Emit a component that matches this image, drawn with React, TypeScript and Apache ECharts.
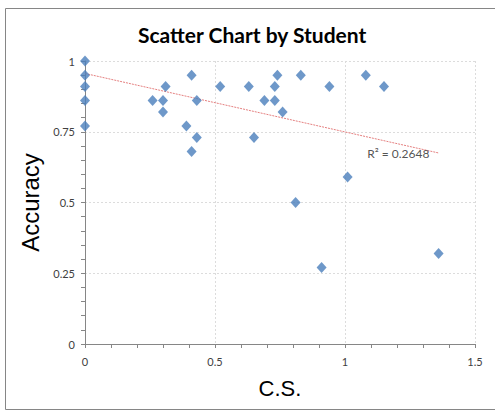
import React, { useEffect, useRef } from "react";
import * as echarts from "echarts";

const csValues = [0, 0, 0, 0, 0, 0.26, 0.3, 0.3, 0.31, 0.39, 0.41, 0.41, 0.43, 0.43, 0.52, 0.63, 0.65, 0.69, 0.73, 0.73, 0.74, 0.76, 0.81, 0.83, 0.91, 0.94, 1.01, 1.08, 1.15, 1.36];
const accuracyValues = [1, 0.95, 0.91, 0.86, 0.77, 0.86, 0.86, 0.82, 0.91, 0.77, 0.95, 0.68, 0.86, 0.73, 0.91, 0.91, 0.73, 0.86, 0.91, 0.86, 0.95, 0.82, 0.5, 0.95, 0.27, 0.91, 0.59, 0.95, 0.91, 0.32];
const trendX = [0, 1.36];
const trendY = [0.956, 0.675];
const r2Label = "R² = 0.2648";
const r2Pos = [1.205, 0.674];
const xTicks = [0, 0.5, 1, 1.5];
const yTicks = [0, 0.25, 0.5, 0.75, 1];

export default function App() {
  const ref = useRef<HTMLDivElement>(null);
  useEffect(() => {
    if (!ref.current) return;
    const chart = echarts.init(ref.current, null, { renderer: "svg" });
    const font = "Lato, 'Liberation Sans', sans-serif";
    chart.setOption({
      animation: false,
      backgroundColor: "#ffffff",
      title: {
        text: "Scatter Chart by Student",
        left: 133,
        top: 19,
        textStyle: { fontFamily: font, fontWeight: "bold", fontSize: 21, color: "#000000" },
      },
      graphic: [
        {
          type: "rect",
          shape: { x: 5.5, y: 8.5, width: 520, height: 401 },
          style: { fill: "none", stroke: "#868686", lineWidth: 1 },
          silent: true,
        },
      ],
      grid: { left: 85, right: 20, top: 61, bottom: 68, containLabel: false },
      xAxis: {
        type: "value",
        min: xTicks[0],
        max: xTicks[xTicks.length - 1],
        interval: 0.5,
        name: "C.S.",
        nameLocation: "middle",
        nameGap: 33,
        nameTextStyle: { fontFamily: "'Liberation Sans', Arial, sans-serif", fontSize: 22, color: "#000000" },
        axisLine: { show: true, lineStyle: { color: "#868686", width: 1 } },
        axisTick: { show: true, length: 4, lineStyle: { color: "#868686" } },
        minorTick: { show: true, splitNumber: 5, length: 4, lineStyle: { color: "#868686" } },
        axisLabel: {
          fontFamily: font,
          fontSize: 11,
          color: "#404040",
          margin: 12,
          formatter: (v: number) => String(v),
        },
        splitLine: { show: true, lineStyle: { color: "#dcdcdc", type: [2, 2], width: 1 } },
      },
      yAxis: {
        type: "value",
        min: yTicks[0],
        max: yTicks[yTicks.length - 1],
        interval: 0.25,
        name: "Accuracy",
        nameLocation: "middle",
        nameRotate: 90,
        nameGap: 38,
        nameTextStyle: { fontFamily: "'Liberation Sans', Arial, sans-serif", fontSize: 24, color: "#000000" },
        axisLine: { show: true, lineStyle: { color: "#868686", width: 1 } },
        axisTick: { show: true, length: 4, lineStyle: { color: "#868686" } },
        minorTick: { show: true, splitNumber: 5, length: 4, lineStyle: { color: "#868686" } },
        axisLabel: {
          fontFamily: font,
          fontSize: 11,
          color: "#404040",
          margin: 10,
          formatter: (v: number) => String(v),
        },
        splitLine: { show: true, lineStyle: { color: "#dcdcdc", type: [2, 2], width: 1 } },
      },
      series: [
        {
          type: "line",
          data: trendX.map((x, i) => [x, trendY[i]]),
          symbol: "none",
          lineStyle: { color: "#e58080", width: 1, type: [2, 1] },
          silent: true,
          z: 2,
        },
        {
          type: "scatter",
          data: csValues.map((x, i) => [x, accuracyValues[i]]),
          symbol: "diamond",
          symbolSize: [10, 11],
          itemStyle: { color: "#4a7ebb" },
          z: 3,
        },
        {
          type: "scatter",
          data: [r2Pos],
          symbolSize: 0,
          silent: true,
          label: {
            show: true,
            position: "inside",
            formatter: r2Label,
            fontFamily: font,
            fontSize: 12,
            color: "#262626",
          },
          z: 4,
        },
      ],
    });
    return () => chart.dispose();
  }, []);
  return <div ref={ref} style={{ position: "fixed", left: 0, top: 0, width: 495, height: 412 }} />;
}
